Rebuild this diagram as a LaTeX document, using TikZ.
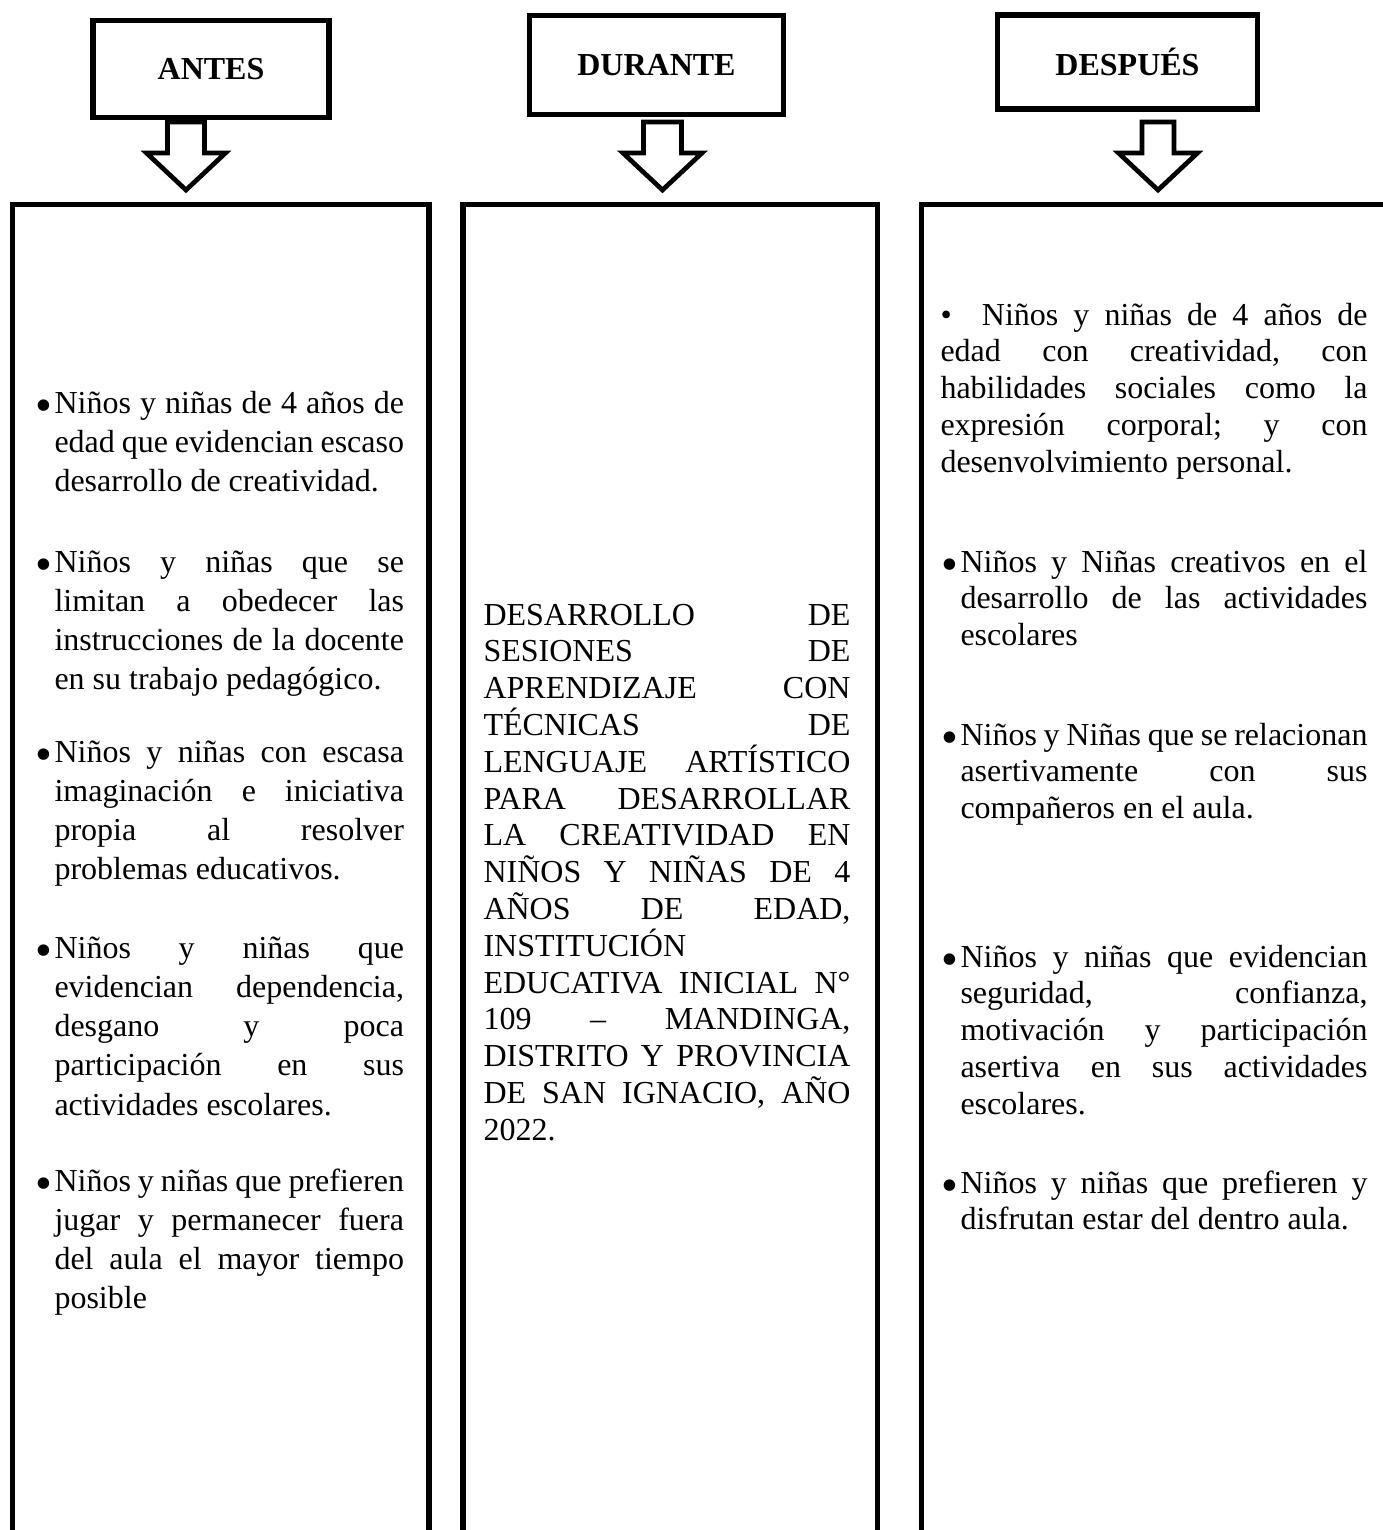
\documentclass[tikz,border=0pt]{standalone}
\usepackage{fontspec}
\setmainfont{Liberation Serif}

\newlength\pxl
\setlength\pxl{0.375pt}
\frenchspacing
\hyphenpenalty=10000
\tolerance=10000
\newcommand\bigbul{\raisebox{-3pt}{\fontsize{18}{18}\selectfont\textbullet}}
\newcommand\hangbul{\llap{\bigbul\hspace{0.8pt}}}

\begin{document}
\begin{tikzpicture}[x=0.375pt, y=-0.375pt,
    headbox/.style={draw, line width=1.9pt, inner sep=0pt, font=\fontsize{12}{14}\selectfont\bfseries},
    colbox/.style={draw, line width=1.9pt, inner sep=0pt, anchor=north, minimum height=1400*\pxl},
    blockarrow/.style={draw, line width=1.75pt, miter limit=10},
    coltext/.style={anchor=base west, inner sep=0pt, align=justify, font=\fontsize{12}{13.8}\selectfont}]

    \useasboundingbox (0,0) rectangle (1383,1530);
    \clip (0,0) rectangle (1383,1530);

    % Encabezados
    \node[headbox, minimum width=236*\pxl, minimum height=96.5*\pxl] (antes) at (211,69) {ANTES};
    \node[headbox, minimum width=254*\pxl, minimum height=99*\pxl] (durante) at (656.5,65) {DURANTE};
    \node[headbox, minimum width=260*\pxl, minimum height=94*\pxl] (despues) at (1127.5,62) {DESPUÉS};

    % Flechas de bloque
    \foreach \ax/\sw in {186/37, 662.5/38, 1158/32}{
        \draw[blockarrow] (\ax-\sw/2,122) -- (\ax-\sw/2,153) -- (\ax-39.5,153) -- (\ax,190)
            -- (\ax+39.5,153) -- (\ax+\sw/2,153) -- (\ax+\sw/2,122) -- cycle;
    }

    % Columnas (abiertas por abajo)
    \node[colbox, minimum width=416.5*\pxl] (antescol) at (220.75,202) {};
    \node[colbox, minimum width=414.5*\pxl] (durantecol) at (670.25,202) {};
    \node[colbox, minimum width=478.5*\pxl] (despuescol) at (1160.75,202) {};

    % Texto ANTES
    \foreach \y/\txt [count=\i] in {
        413/{Niños y niñas de 4 años de\linebreak edad que evidencian escaso\linebreak desarrollo de creatividad.},
        572/{Niños y niñas que se\linebreak limitan a obedecer las\linebreak instrucciones de la docente\linebreak en su trabajo pedagógico.},
        762/{Niños y niñas con escasa\linebreak imaginación e iniciativa\linebreak propia al resolver\linebreak problemas educativos.},
        958/{Niños y niñas que\linebreak evidencian dependencia,\linebreak desgano y poca\linebreak participación en sus\linebreak actividades escolares.},
        1191/{Niños y niñas que prefieren\linebreak jugar y permanecer fuera\linebreak del aula el mayor tiempo\linebreak posible}
    }{
        \node[coltext, text width=349.5*\pxl, font=\fontsize{12}{14.74}\selectfont] (antes\i) at (54,\y) {\hangbul\txt};
    }

    % Texto DURANTE
    \node[coltext, text width=367*\pxl] (durantetxt) at (483,625) {DESARROLLO DE\linebreak
        SESIONES DE\linebreak APRENDIZAJE CON\linebreak TÉCNICAS DE\linebreak
        LENGUAJE ARTÍSTICO\linebreak PARA DESARROLLAR\linebreak LA CREATIVIDAD EN\linebreak
        NIÑOS Y NIÑAS DE 4\linebreak AÑOS DE EDAD,\linebreak INSTITUCIÓN\linebreak
        EDUCATIVA INICIAL N°\linebreak 109 – MANDINGA,\linebreak DISTRITO Y PROVINCIA\linebreak
        DE SAN IGNACIO, AÑO\linebreak 2022.};

    % Texto DESPUÉS
    \node[coltext, text width=427*\pxl] (despues1) at (940,325) {\textbullet\ \ Niños y niñas de 4 años de\linebreak
        edad con creatividad, con\linebreak habilidades sociales como la\linebreak
        expresión corporal; y con\linebreak desenvolvimiento personal.};
    \foreach \y/\txt [count=\i from 2] in {
        572/{Niños y Niñas creativos en el\linebreak desarrollo de las actividades\linebreak escolares},
        745/{Niños y Niñas que se relacionan\linebreak asertivamente con sus\linebreak compañeros en el aula.},
        967/{Niños y niñas que evidencian\linebreak seguridad, confianza,\linebreak motivación y participación\linebreak asertiva en sus actividades\linebreak escolares.},
        1193/{Niños y niñas que prefieren y\linebreak disfrutan estar del dentro aula.}
    }{
        \node[coltext, text width=407*\pxl] (despues\i) at (960,\y) {\hangbul\txt};
    }
\end{tikzpicture}
\end{document}
